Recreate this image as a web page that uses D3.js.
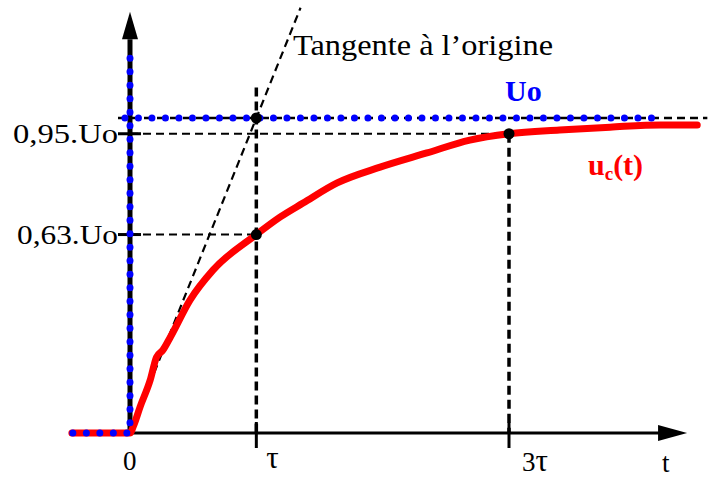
<!DOCTYPE html>
<html>
<head>
<meta charset="utf-8">
<script src="https://cdn.jsdelivr.net/npm/d3@7/dist/d3.min.js"></script>
<style>
  html, body { margin: 0; padding: 0; background: #fff; }
  svg { display: block; }
  text { font-family: "Liberation Serif", "Times New Roman", serif; }
</style>
</head>
<body>
<svg id="chart" width="715" height="478"></svg>
<script>
// Charge d'un condensateur : u_c(t) en fonction de t (unités : τ et Uo)
const curveT = [-0.46, 0, 0.03, 0.08, 0.16, 0.21, 0.26, 0.32, 0.475, 0.657, 1.0, 1.19, 1.37, 1.64, 1.98, 2.35, 2.69, 3.0, 3.40, 3.80, 4.20, 4.49];
const curveU = [0, 0, 0.025, 0.083, 0.168, 0.241, 0.263, 0.305, 0.422, 0.517, 0.63, 0.686, 0.730, 0.794, 0.844, 0.889, 0.930, 0.95, 0.962, 0.971, 0.978, 0.978];

// Échelon de tension (pointillés bleus)
const stepT = [-0.46, 0, 0];
const stepU = [0, 0, 1.19];
const levelT = [-0.04, 4.2];
const levelU = [1, 1];

// Tangente à l'origine
const tangentT = [0, 1.35];
const tangentU = [0, 1.35];

// Repères
const yMarks = [0.95, 0.63];
const yMarkLabels = ["0,95.Uo", "0,63.Uo"];
const xMarks = [1, 3];
const xMarkLabels = [["", "τ"], ["3", "τ"]];
const pointT = [1, 1, 3];
const pointU = [1, 0.63, 0.95];

const svg = d3.select("#chart");
const x = d3.scaleLinear().domain([0, 3]).range([130, 509]);
const y = d3.scaleLinear().domain([0, 1]).range([433, 118]);

const line = d3.line().x(d => x(d[0])).y(d => y(d[1]));
const smooth = d3.line().x(d => x(d[0])).y(d => y(d[1])).curve(d3.curveMonotoneX);
const zip = (a, b) => a.map((v, i) => [v, b[i]]);

// Axe des abscisses
svg.append("line")
  .attr("x1", x(-0.46)).attr("x2", x(4.2))
  .attr("y1", y(0)).attr("y2", y(0))
  .attr("stroke", "#000").attr("stroke-width", 3);
svg.append("path")
  .attr("d", `M${x(4.18)},${y(0) - 8}L${x(4.41)},${y(0)}L${x(4.18)},${y(0) + 8}Z`)
  .attr("fill", "#000");

// Axe des ordonnées
svg.append("line")
  .attr("x1", x(0)).attr("x2", x(0))
  .attr("y1", y(0)).attr("y2", y(1.25))
  .attr("stroke", "#000").attr("stroke-width", 5);
svg.append("path")
  .attr("d", `M${x(0) - 8},${y(1.25)}L${x(0)},${y(1.337)}L${x(0) + 8},${y(1.25)}Z`)
  .attr("fill", "#000");

// Graduations de l'axe du temps
xMarks.forEach(t => {
  svg.append("line")
    .attr("x1", x(t)).attr("x2", x(t))
    .attr("y1", y(0) - 11).attr("y2", y(0) + 15)
    .attr("stroke", "#000").attr("stroke-width", 3);
});
// Graduations de l'axe des tensions
yMarks.forEach(u => {
  svg.append("line")
    .attr("x1", x(0) - 12).attr("x2", x(0) + 11)
    .attr("y1", y(u)).attr("y2", y(u))
    .attr("stroke", "#000").attr("stroke-width", 3);
});

// Lignes de rappel
const dash = (x1, y1, x2, y2, w, da) => svg.append("line")
  .attr("x1", x1).attr("y1", y1).attr("x2", x2).attr("y2", y2)
  .attr("stroke", "#000").attr("stroke-width", w).attr("stroke-dasharray", da);

dash(x(-0.095), y(1), x(4.57), y(1), 2.5, "8 5");
dash(x(0), y(0.95), x(3), y(0.95), 2, "8 5");
dash(x(0), y(0.63), x(1), y(0.63), 2, "8 5");
dash(x(1), y(1.097), x(1), y(0), 3.5, "9 5");
dash(x(3), y(0.95), x(3), y(0), 3.5, "9 5");

// Tangente
svg.append("path")
  .attr("d", line(zip(tangentT, tangentU)))
  .attr("fill", "none").attr("stroke", "#000")
  .attr("stroke-width", 2.2).attr("stroke-dasharray", "8 5");

// Courbe u_c(t)
svg.append("path")
  .attr("d", smooth(zip(curveT, curveU)))
  .attr("fill", "none").attr("stroke", "#ff0000")
  .attr("stroke-width", 7).attr("stroke-linecap", "round").attr("stroke-linejoin", "round");

// Échelon Uo en pointillés bleus
const dots = pts => svg.append("path")
  .attr("d", line(pts))
  .attr("fill", "none").attr("stroke", "#0000ff")
  .attr("stroke-width", 7).attr("stroke-linecap", "round")
  .attr("stroke-dasharray", "0 13.5");
dots(zip(stepT, stepU).slice().reverse());
dots(zip(levelT, levelU));

// Points remarquables
svg.selectAll("circle.pt")
  .data(zip(pointT, pointU))
  .join("circle")
  .attr("class", "pt")
  .attr("cx", d => x(d[0])).attr("cy", d => y(d[1]))
  .attr("r", 5.5).attr("fill", "#000");

// Textes
svg.append("text")
  .attr("x", 293).attr("y", 55)
  .attr("font-size", 29)
  .attr("textLength", 260).attr("lengthAdjust", "spacingAndGlyphs")
  .text("Tangente à l’origine");

svg.append("text")
  .attr("x", 505).attr("y", 101)
  .attr("font-size", 30).attr("font-weight", "bold").attr("fill", "#0000ff")
  .text("Uo");

const uc = svg.append("text")
  .attr("x", 588).attr("y", 175)
  .attr("font-size", 30).attr("font-weight", "bold").attr("fill", "#ff0000");
uc.append("tspan").text("u");
uc.append("tspan").attr("font-size", 19).attr("dy", 5).text("c");
uc.append("tspan").attr("dy", -5).text("(t)");

const yLabelX = [13, 17];
const yLabelW = [105, 101];
yMarks.forEach((u, i) => {
  svg.append("text")
    .attr("x", yLabelX[i]).attr("y", y(u) + 9)
    .attr("font-size", 27)
    .attr("textLength", yLabelW[i]).attr("lengthAdjust", "spacingAndGlyphs")
    .text(yMarkLabels[i]);
});

svg.append("text")
  .attr("x", x(0) - 7).attr("y", 470)
  .attr("font-size", 27).text("0");

xMarks.forEach((t, i) => {
  const lab = svg.append("text")
    .attr("x", x(t) + (i === 0 ? 10 : 13)).attr("y", i === 0 ? 468 : 471)
    .attr("font-size", 27);
  if (xMarkLabels[i][0]) lab.append("tspan").text(xMarkLabels[i][0]);
  lab.append("tspan").attr("font-size", 31).text(xMarkLabels[i][1]);
});

svg.append("text")
  .attr("x", 662).attr("y", 472)
  .attr("font-size", 27).text("t");
</script>
</body>
</html>
